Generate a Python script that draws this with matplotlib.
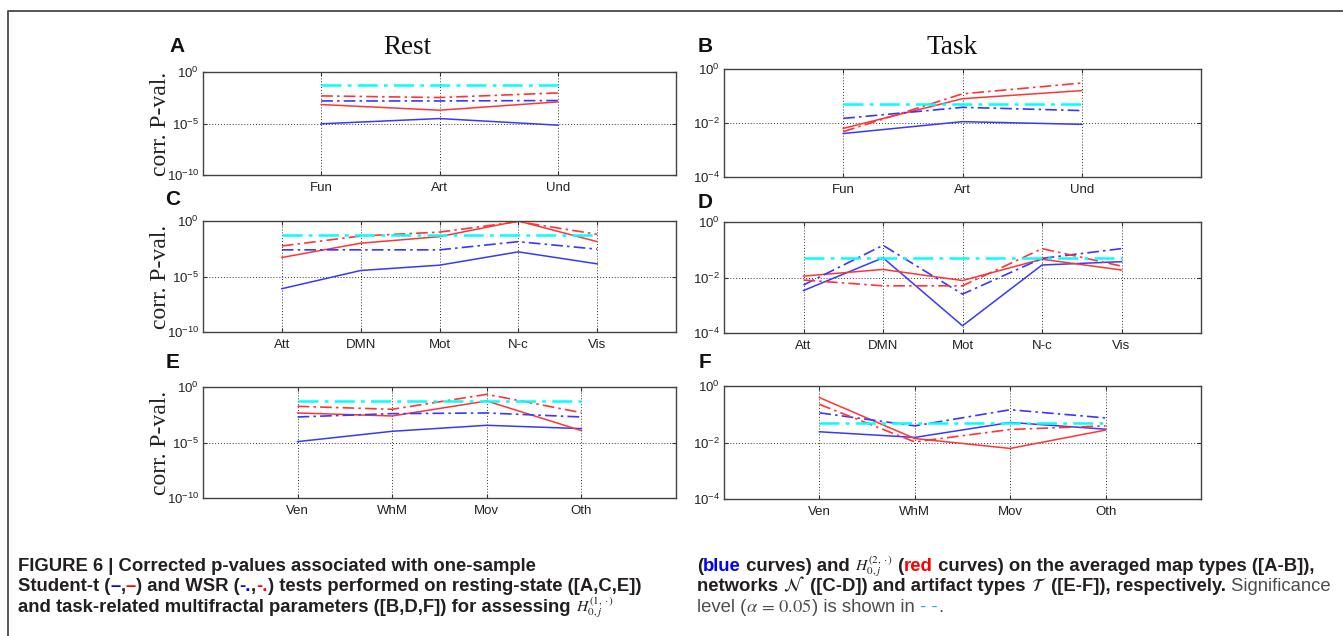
import numpy as np
import matplotlib
matplotlib.use('Agg')
import matplotlib.pyplot as plt
from matplotlib import font_manager
from matplotlib.lines import Line2D
from matplotlib.ticker import NullLocator

plt.rcParams['font.family'] = ['Liberation Sans', 'DejaVu Sans']
plt.rcParams['mathtext.fontset'] = 'custom'
plt.rcParams['mathtext.rm'] = 'Liberation Sans'
plt.rcParams['mathtext.it'] = 'Liberation Sans:italic'
plt.rcParams['mathtext.bf'] = 'Liberation Sans:bold'

W, H = 1343, 636

# categories
map_types = ['Fun', 'Art', 'Und']
networks = ['Att', 'DMN', 'Mot', 'N-c', 'Vis']
artifacts = ['Ven', 'WhM', 'Mov', 'Oth']

alpha = 0.05

# log10 of the corrected p-values
# t = Student-t (solid), wsr = WSR (dash-dot), h1 = blue, h2 = red
rest_map_t_h1 = [-5.03, -4.52, -5.16]
rest_map_t_h2 = [-3.16, -3.71, -2.90]
rest_map_wsr_h1 = [-2.81, -2.81, -2.77]
rest_map_wsr_h2 = [-2.32, -2.48, -2.03]

task_map_t_h1 = [-2.39, -1.95, -2.05]
task_map_t_h2 = [-2.20, -1.10, -0.80]
task_map_wsr_h1 = [-1.83, -1.42, -1.54]
task_map_wsr_h2 = [-2.32, -0.92, -0.52]

rest_net_t_h1 = [-6.10, -4.46, -3.98, -2.78, -3.86]
rest_net_t_h2 = [-3.29, -2.00, -1.41, 0.00, -1.86]
rest_net_wsr_h1 = [-2.60, -2.60, -2.60, -1.86, -2.54]
rest_net_wsr_h2 = [-2.25, -1.35, -1.00, -0.06, -1.20]

task_net_t_h1 = [-2.47, -1.29, -3.74, -1.55, -1.43]
task_net_t_h2 = [-1.95, -1.71, -2.11, -1.34, -1.73]
task_net_wsr_h1 = [-2.27, -0.84, -2.60, -1.31, -0.96]
task_net_wsr_h2 = [-2.09, -2.30, -2.30, -0.96, -1.59]

rest_art_t_h1 = [-4.92, -3.99, -3.45, -3.75]
rest_art_t_h2 = [-2.34, -2.61, -1.26, -3.93]
rest_art_wsr_h1 = [-2.70, -2.40, -2.34, -2.70]
rest_art_wsr_h2 = [-1.74, -2.01, -0.66, -2.31]

task_art_t_h1 = [-1.62, -1.82, -1.29, -1.53]
task_art_t_h2 = [-0.41, -1.86, -2.21, -1.56]
task_art_wsr_h1 = [-0.95, -1.41, -0.84, -1.13]
task_art_wsr_h2 = [-0.65, -1.98, -1.54, -1.41]

BLUE = '#3838ff'
RED = '#ff3535'
CYAN = '#00ffff'

fig = plt.figure(figsize=(W / 100, H / 100), dpi=100)
fig.patch.set_facecolor('white')


def px_axes(l, r, t, b):
    return fig.add_axes([l / W, 1 - b / H, (r - l) / W, (b - t) / H])


def draw_panel(box, cats, series, lo, ylabel):
    ax = px_axes(*box)
    x = np.arange(1, len(cats) + 1)
    t_h1, t_h2, wsr_h1, wsr_h2 = [10.0 ** np.array(s) for s in series]
    dd = (7, 2.5, 1.5, 2.5)
    ax.plot(x, t_h1, color=BLUE, lw=1.1)
    ax.plot(x, t_h2, color=RED, lw=1.1)
    ax.plot(x, wsr_h1, color=BLUE, lw=1.2, dashes=dd)
    ax.plot(x, wsr_h2, color=RED, lw=1.2, dashes=dd)
    ax.plot(x, np.full(len(cats), alpha), color=CYAN, lw=1.8, dashes=(8, 2.5, 1.5, 2.5))

    ax.set_yscale('log')
    ax.set_ylim(10.0 ** lo, 1)
    ax.set_xlim(0, len(cats) + 1)
    mid = lo // 2
    ax.set_yticks([10.0 ** lo, 10.0 ** mid, 1])
    ax.set_yticklabels(['$10^{%d}$' % lo, '$10^{%d}$' % mid, '$10^{0}$'])
    ax.yaxis.set_minor_locator(NullLocator())
    ax.set_xticks(x)
    ax.set_xticklabels(cats)
    ax.tick_params(direction='in', length=3, width=0.8, top=True, right=True,
                   colors='#333333', labelcolor='#222222', labelsize=9.5)
    ax.tick_params(axis='x', pad=5)
    ax.tick_params(axis='y', pad=3)
    ax.set_axisbelow(True)
    ax.grid(True, ls=(0, (1, 2)), color='#333333', lw=0.7)
    for sp in ax.spines.values():
        sp.set_color('#444444')
        sp.set_linewidth(1.0)
    if ylabel:
        ax.set_ylabel('corr. P-val.', family='Liberation Serif', fontsize=17,
                      color='#222222', va='center')
        ax.yaxis.set_label_coords(-0.09, 0.5)
    return ax


draw_panel((203, 676, 72, 175), map_types,
           (rest_map_t_h1, rest_map_t_h2, rest_map_wsr_h1, rest_map_wsr_h2), -10, True)
draw_panel((724, 1201, 69, 177), map_types,
           (task_map_t_h1, task_map_t_h2, task_map_wsr_h1, task_map_wsr_h2), -4, False)
draw_panel((203, 676, 221, 332), networks,
           (rest_net_t_h1, rest_net_t_h2, rest_net_wsr_h1, rest_net_wsr_h2), -10, True)
draw_panel((724, 1201, 222, 333), networks,
           (task_net_t_h1, task_net_t_h2, task_net_wsr_h1, task_net_wsr_h2), -4, False)
draw_panel((203, 676, 387, 498), artifacts,
           (rest_art_t_h1, rest_art_t_h2, rest_art_wsr_h1, rest_art_wsr_h2), -10, True)
draw_panel((724, 1201, 386, 499), artifacts,
           (task_art_t_h1, task_art_t_h2, task_art_wsr_h1, task_art_wsr_h2), -4, False)

# column titles and panel letters
fig.text(407 / W, 1 - 47 / H, 'Rest', family='Liberation Serif', fontsize=19.5,
         ha='center', va='center', color='#111111')
fig.text(952 / W, 1 - 47 / H, 'Task', family='Liberation Serif', fontsize=19.5,
         ha='center', va='center', color='#111111')
for letter, (lx, ly) in zip('ABCDEF', [(177, 47), (705, 47), (173, 200),
                                       (705, 202), (173, 362), (705, 362)]):
    fig.text(lx / W, 1 - ly / H, letter, fontsize=15, fontweight='bold',
             ha='center', va='center', color='#111111')

# outer frame (left and top only)
fig.add_artist(Line2D([8 / W, 8 / W, 1], [0, 1 - 11 / H, 1 - 11 / H],
                      transform=fig.transFigure, color='#555555', lw=1.4))

# caption
names = {f.name for f in font_manager.fontManager.ttflist}
if 'Liberation Sans Narrow' in names:
    cap_family, cap_size = 'Liberation Sans Narrow', 15.5
else:
    cap_family, cap_size = 'Liberation Sans', 13.3

renderer = fig.canvas.get_renderer()
INK = '#231f20'
GREY = '#4d4d4d'


def text_width(s, **kw):
    t = fig.text(0, 0, s, **kw)
    w = t.get_window_extent(renderer).width
    t.remove()
    return w


def rich_line(x, y, pieces):
    for s, color, style in pieces:
        kw = dict(color=color, fontsize=cap_size, family=cap_family)
        if style == 'b':
            kw['fontweight'] = 'bold'
        if style in ('m', 'h'):
            kw['math_fontfamily'] = 'stix'
        if style == 'h':
            kw['fontsize'] = cap_size - 2
        fig.text(x / W, 1 - y / H, s, va='baseline', ha='left', **kw)
        if s.startswith('$'):
            x += text_width(s, **kw)
        else:
            x += text_width('|' + s + '|', **kw) - text_width('||', **kw)


rich_line(18, 571, [('FIGURE 6 | Corrected p-values associated with one-sample', INK, 'b')])
rich_line(18, 591, [('Student-t (', INK, 'b'), ('\u2013', 'blue', 'b'), (',', INK, 'b'),
                    ('\u2013', 'red', 'b'), (') and WSR (', INK, 'b'), ('-.', 'blue', 'b'),
                    (',', INK, 'b'), ('-.', 'red', 'b'),
                    (') tests performed on resting-state ([A,C,E])', INK, 'b')])
rich_line(18, 612, [('and task-related multifractal parameters ([B,D,F]) for assessing ', INK, 'b'),
                    (r'$H_{0,j}^{(1,\cdot)}$', INK, 'h')])

rich_line(697, 571, [('(', INK, 'b'), ('blue', 'blue', 'b'), (' curves) and ', INK, 'b'),
                     (r'$H_{0,j}^{(2,\cdot)}$', INK, 'h'), (' (', INK, 'b'), ('red', 'red', 'b'),
                     (' curves) on the averaged map types ([A-B]),', INK, 'b')])
rich_line(697, 591, [('networks ', INK, 'b'), (r'$\mathcal{N}$', INK, 'm'),
                     (' ([C-D]) and artifact types ', INK, 'b'), (r'$\mathcal{T}$', INK, 'm'),
                     (' ([E-F]), respectively.', INK, 'b'), (' Significance', GREY, 'n')])
rich_line(697, 612, [('level (', GREY, 'n'), (r'$\alpha\,=\,0.05$', GREY, 'm'),
                     (') is shown in ', GREY, 'n'), ('- -', '#29abe2', 'n'), ('.', GREY, 'n')])

fig.savefig('out.png', dpi=100, facecolor='white')
